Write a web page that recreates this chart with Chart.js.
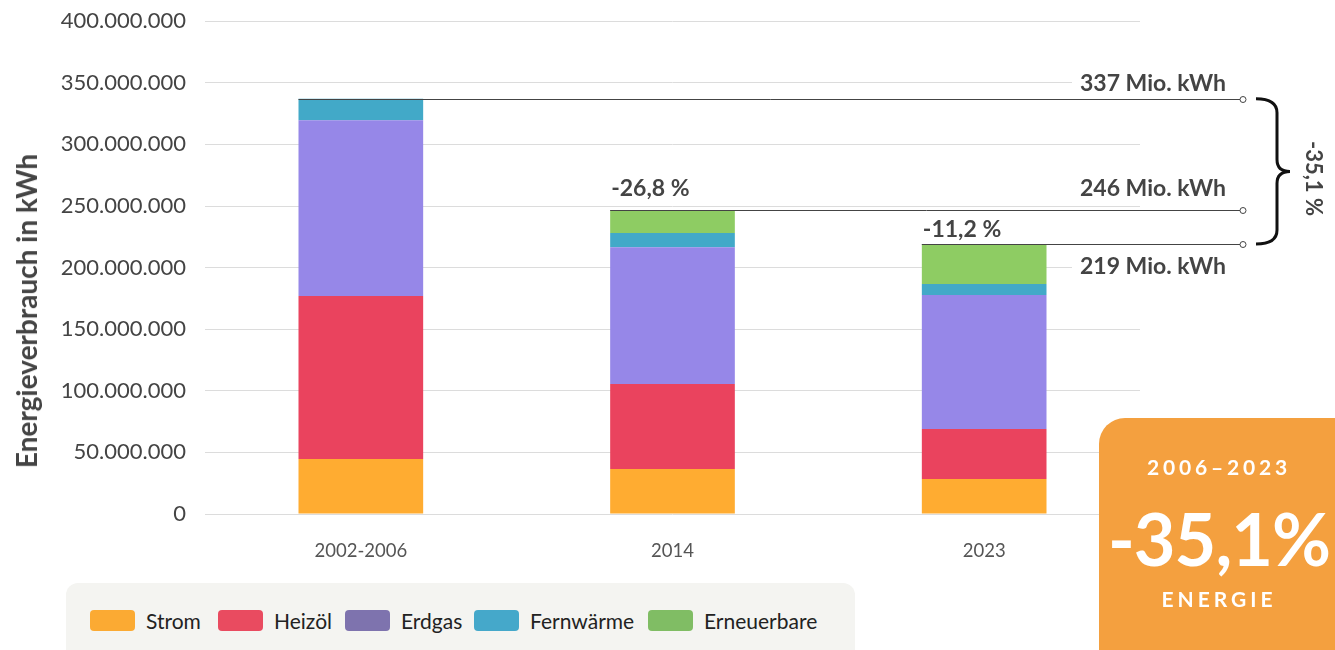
<!DOCTYPE html>
<html>
<head>
<meta charset="utf-8">
<script src="https://cdn.jsdelivr.net/npm/chart.js@4"></script>
<style>
  body { margin: 0; background: #fff; font-family: Lato, "Open Sans", sans-serif; }
  #wrap { position: relative; width: 1335px; height: 650px; overflow: hidden; }
  #chart { position: absolute; left: 0; top: -11px; }
  #ytitle {
    position: absolute; left: 26px; top: 311px; white-space: nowrap;
    transform: translate(-50%, -50%) rotate(-90deg);
    font-size: 28px; font-weight: bold; color: #444;
  }
  #legend {
    position: absolute; left: 66px; top: 583px; width: 789px; height: 90px;
    background: #f4f4f1; border-radius: 12px;
  }
  .item { position: absolute; top: 26px; height: 22px; display: flex; align-items: center; font-size: 21px; color: #222; }
  .sw { width: 45px; height: 21px; border-radius: 4px; margin-right: 11px; }
  #badge {
    position: absolute; left: 1099px; top: 418px; width: 270px; height: 260px;
    background: #f4a03f; border-radius: 26px; color: #fff; font-weight: bold;
  }
  #badge div { position: absolute; left: 0; width: 240px; text-align: center; }
  #b1 { top: 36px; font-size: 21px; letter-spacing: 3.8px; }
  #b2 { top: 80px; font-size: 72px; letter-spacing: -1px; line-height: 80px; }
  #b3 { top: 168px; font-size: 21px; letter-spacing: 4px; }
</style>
</head>
<body>
<div id="wrap">
  <canvas id="chart" width="1335" height="661"></canvas>
  <div id="ytitle">Energieverbrauch in kWh</div>
  <div id="legend"></div>
  <div id="badge"><div id="b1">2006–2023</div><div id="b2">-35,1%</div><div id="b3">ENERGIE</div></div>
</div>
<script>
const categories = ['2002-2006', '2014', '2023'];
const strom = [44.6e6, 36.5e6, 28.4e6];
const heizoel = [132.3e6, 69.0e6, 40.6e6];
const erdgas = [142.8e6, 111.1e6, 108.7e6];
const fernwaerme = [17.3e6, 11.4e6, 8.9e6];
const erneuerbare = [0, 18.6e6, 32.5e6];
const totalLabels = ['337 Mio. kWh', '246 Mio. kWh', '219 Mio. kWh'];
const changeLabels = ['', '-26,8 %', '-11,2 %'];
const overallChange = '-35,1 %';

const seriesNames = ['Strom', 'Heizöl', 'Erdgas', 'Fernwärme', 'Erneuerbare'];
const barColors = ['#ffac31', '#ea435e', '#9687e8', '#42a9c8', '#8ecc63'];
const legendColors = ['#fbaa33', '#e94b60', '#7e73ae', '#45a8ca', '#80bd64'];
const seriesData = [strom, heizoel, erdgas, fernwaerme, erneuerbare];

const FONT = 'Lato, "Open Sans", sans-serif';

// html legend
const legend = document.getElementById('legend');
const legendX = [24, 152, 279, 408, 582];
seriesNames.forEach((name, i) => {
    const el = document.createElement('div');
    el.className = 'item';
    el.style.left = legendX[i] + 'px';
    el.innerHTML = '<span class="sw" style="background:' + legendColors[i] + '"></span>' + name;
    legend.appendChild(el);
});

// totals lines, percentage labels and brace
const totalOffsets = [-16, -22, 22];
const changeOffsets = [0, -22, -15];
const annotations = {
    id: 'annotations',
    afterDatasetsDraw(chart) {
        const ctx = chart.ctx;
        const y = chart.scales.y;
        const meta = chart.getDatasetMeta(0);
        const endX = 1243;
        const totals = categories.map((c, i) => seriesData.reduce((s, arr) => s + arr[i], 0));
        ctx.save();
        ctx.font = 'bold 23px ' + FONT;
        totals.forEach((t, i) => {
            const bar = meta.data[i];
            const left = bar.x - bar.width / 2;
            const ty = Math.round(y.getPixelForValue(t)) + 0.5;
            // label (white background hides gridline)
            const label = totalLabels[i];
            const w = ctx.measureText(label).width;
            const ly = ty + totalOffsets[i];
            ctx.fillStyle = '#fff';
            ctx.fillRect(1226 - w - 8, ly - 12, w + 16, 24);
            ctx.fillStyle = '#444';
            ctx.textAlign = 'right';
            ctx.textBaseline = 'middle';
            ctx.fillText(label, 1226, ly);
            // line
            ctx.strokeStyle = '#444';
            ctx.lineWidth = 1;
            ctx.beginPath();
            ctx.moveTo(left, ty);
            ctx.lineTo(endX, ty);
            ctx.stroke();
            ctx.beginPath();
            ctx.arc(endX, ty, 3, 0, Math.PI * 2);
            ctx.fillStyle = '#fff';
            ctx.fill();
            ctx.stroke();
            if (changeLabels[i]) {
                ctx.fillStyle = '#444';
                ctx.textAlign = 'left';
                ctx.fillText(changeLabels[i], left + 1, ty + changeOffsets[i]);
            }
        });
        // brace
        const top = y.getPixelForValue(totals[0]);
        const bot = y.getPixelForValue(totals[2]);
        const mid = (top + bot) / 2;
        const bx = 1256, cx = 1277, tip = 1290;
        ctx.strokeStyle = '#111';
        ctx.lineWidth = 3;
        ctx.beginPath();
        ctx.moveTo(bx, top);
        ctx.quadraticCurveTo(cx, top, cx, top + 14);
        ctx.lineTo(cx, mid - 12);
        ctx.quadraticCurveTo(cx, mid, tip, mid);
        ctx.quadraticCurveTo(cx, mid, cx, mid + 12);
        ctx.lineTo(cx, bot - 14);
        ctx.quadraticCurveTo(cx, bot, bx, bot);
        ctx.stroke();
        ctx.translate(1313, mid + 7);
        ctx.rotate(Math.PI / 2);
        ctx.fillStyle = '#444';
        ctx.textAlign = 'center';
        ctx.textBaseline = 'middle';
        ctx.font = 'bold 22px ' + FONT;
        ctx.fillText(overallChange, 0, 0);
        ctx.restore();
    }
};

const ctx = document.getElementById('chart').getContext('2d');
new Chart(ctx, {
    type: 'bar',
    data: {
        labels: categories,
        datasets: seriesNames.map((name, i) => ({
            label: name,
            data: seriesData[i],
            backgroundColor: barColors[i],
            borderWidth: 0
        }))
    },
    options: {
        responsive: false,
        animation: false,
        layout: { padding: { top: 9, right: 195, left: 0, bottom: 0 } },
        categoryPercentage: 0.4,
        barPercentage: 1,
        scales: {
            x: {
                stacked: true,
                grid: { display: false },
                border: { display: false },
                ticks: { color: '#555', padding: 18, font: { family: FONT, size: 18.5 } },
                afterFit: (s) => { s.height = 136; }
            },
            y: {
                stacked: true,
                min: 0,
                max: 400e6,
                border: { display: false },
                grid: { color: '#dcdcdc', drawTicks: false },
                ticks: {
                    stepSize: 50e6,
                    color: '#444',
                    padding: 19,
                    font: { family: FONT, size: 22 },
                    callback: (v) => v.toLocaleString('de-DE')
                },
                afterFit: (s) => { s.width = 205; }
            }
        },
        plugins: {
            legend: { display: false },
            tooltip: { enabled: false }
        }
    },
    plugins: [annotations]
});
</script>
</body>
</html>
